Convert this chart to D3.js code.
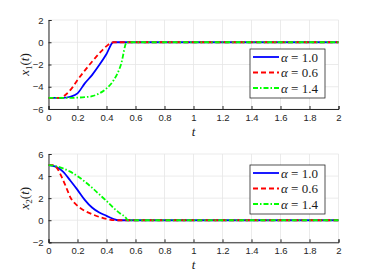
<!DOCTYPE html>
<html>
<head>
<meta charset="utf-8">
<script src="https://cdn.jsdelivr.net/npm/d3@7"></script>
<style>
  body { margin: 0; background: #fff; }
  .tick text { font-family: "Liberation Sans", Arial, sans-serif; font-size: 9.5px; fill: #262626; }
  .lbl { font-family: "Liberation Serif", "DejaVu Serif", serif; font-size: 13px; fill: #1a1a1a; }
</style>
</head>
<body>
<div id="chart"></div>
<script>
// time ticks shared by both panels
var tTicks = [0, 0.2, 0.4, 0.6, 0.8, 1, 1.2, 1.4, 1.6, 1.8, 2];
var y1Ticks = [-6, -4, -2, 0, 2];
var y2Ticks = [-2, 0, 2, 4, 6];
var alphaLabels = ["1.0", "0.6", "1.4"];

// x1(t) for each alpha
var t1a = [0, 0.1, 0.15, 0.2, 0.25, 0.3, 0.35, 0.4, 0.447, 0.5, 2];
var x1a = [-5, -5, -4.9, -4.6, -3.7, -2.95, -2.05, -1.05, 0, 0, 0];
var t1b = [0, 0.08, 0.12, 0.16, 0.2, 0.25, 0.3, 0.35, 0.4, 0.447, 0.5, 2];
var x1b = [-5, -5, -4.7, -4.15, -3.4, -2.55, -1.75, -1.0, -0.35, 0, 0, 0];
var t1c = [0, 0.15, 0.2, 0.25, 0.3, 0.35, 0.4, 0.45, 0.5, 0.54, 0.6, 2];
var x1c = [-5, -5, -4.98, -4.93, -4.85, -4.6, -4.15, -3.4, -2.0, 0, 0, 0];

// x2(t) for each alpha
var t2a = [0, 0.05, 0.1, 0.15, 0.2, 0.25, 0.3, 0.35, 0.4, 0.45, 0.48, 0.5, 2];
var x2a = [5, 4.85, 4.4, 3.6, 2.75, 1.85, 1.15, 0.7, 0.4, 0.1, 0, 0, 0];
var t2b = [0, 0.03, 0.06, 0.09, 0.12, 0.15, 0.2, 0.25, 0.3, 0.35, 0.4, 0.46, 0.5, 2];
var x2b = [5, 5, 4.7, 3.95, 3.05, 2.1, 1.3, 0.85, 0.55, 0.3, 0.12, 0, 0, 0];
var t2c = [0, 0.05, 0.1, 0.15, 0.2, 0.25, 0.3, 0.35, 0.4, 0.45, 0.5, 0.535, 0.545, 0.6, 2];
var x2c = [5, 4.9, 4.7, 4.4, 4.0, 3.5, 2.95, 2.35, 1.75, 1.1, 0.55, 0.2, 0, 0, 0];

var width = 374, height = 280;
var styles = [
  { color: "#0000ff", dash: null },
  { color: "#ff0000", dash: "5,3" },
  { color: "#00ff00", dash: "5,2,1.5,2" }
];

var svg = d3.select("#chart").append("svg")
    .attr("width", width)
    .attr("height", height);

function zip(ts, xs) {
  return ts.map(function (t, i) { return [t, xs[i]]; });
}

function panel(top, bottom, yDomain, yTicks, sub, series, legTop) {
  var x = d3.scaleLinear().domain([0, 2]).range([48.5, 338.5]);
  var y = d3.scaleLinear().domain(yDomain).range([bottom, top]);
  var g = svg.append("g");

  // grid
  g.selectAll(".gx").data(tTicks).enter().append("line")
      .attr("x1", d => x(d)).attr("x2", d => x(d))
      .attr("y1", top).attr("y2", bottom)
      .attr("stroke", "#e6e6e6").attr("stroke-width", 0.8);
  g.selectAll(".gy").data(yTicks).enter().append("line")
      .attr("x1", x(0)).attr("x2", x(2))
      .attr("y1", d => y(d)).attr("y2", d => y(d))
      .attr("stroke", "#e6e6e6").attr("stroke-width", 0.8);

  // axes
  var xAxis = g.append("g")
      .attr("transform", "translate(0," + bottom + ")")
      .call(d3.axisBottom(x).tickValues(tTicks).tickSize(-3).tickPadding(5).tickFormat(d3.format("")));
  var yAxis = g.append("g")
      .attr("transform", "translate(" + x(0) + ",0)")
      .call(d3.axisLeft(y).tickValues(yTicks).tickSize(-3).tickPadding(5));
  [xAxis, yAxis].forEach(function (a) {
    a.select(".domain").attr("stroke", "#262626");
    a.selectAll(".tick line").attr("stroke", "#262626");
  });

  // lines
  var line = d3.line().x(d => x(d[0])).y(d => y(d[1])).curve(d3.curveMonotoneX);
  series.forEach(function (s, i) {
    g.append("path")
        .datum(s)
        .attr("d", line)
        .attr("fill", "none")
        .attr("stroke", styles[i].color)
        .attr("stroke-width", 1.8)
        .attr("stroke-dasharray", styles[i].dash);
  });

  // axis labels
  var yl = g.append("text").attr("class", "lbl")
      .attr("transform", "translate(29," + ((top + bottom) / 2) + ") rotate(-90)")
      .attr("text-anchor", "middle");
  yl.append("tspan").attr("font-style", "italic").text("x");
  yl.append("tspan").attr("font-size", "9px").attr("dy", 3).text(sub);
  yl.append("tspan").attr("dy", -3).text("(");
  yl.append("tspan").attr("font-style", "italic").text("t");
  yl.append("tspan").text(")");

  g.append("text").attr("class", "lbl")
      .attr("x", x(1)).attr("y", bottom + 27)
      .attr("text-anchor", "middle")
      .attr("font-style", "italic")
      .text("t");

  // legend
  var lg = g.append("g").attr("transform", "translate(250," + legTop + ")");
  lg.append("rect").attr("width", 75).attr("height", 49)
      .attr("fill", "#fff").attr("stroke", "#262626").attr("stroke-width", 0.8);
  alphaLabels.forEach(function (lab, i) {
    var yy = 8 + i * 15.5;
    lg.append("line")
        .attr("x1", 3).attr("x2", 29).attr("y1", yy).attr("y2", yy)
        .attr("stroke", styles[i].color).attr("stroke-width", 1.8)
        .attr("stroke-dasharray", styles[i].dash);
    var tx = lg.append("text").attr("class", "lbl")
        .attr("x", 31).attr("y", yy + 4.5);
    tx.append("tspan").attr("font-style", "italic").text("\u03B1");
    tx.append("tspan").text(" = " + lab);
  });
}

panel(20, 109, [-6, 2], y1Ticks, "1",
  [zip(t1a, x1a), zip(t1b, x1b), zip(t1c, x1c)], 49);
panel(154, 242.3, [-2, 6], y2Ticks, "2",
  [zip(t2a, x2a), zip(t2b, x2b), zip(t2c, x2c)], 165);
</script>
</body>
</html>
